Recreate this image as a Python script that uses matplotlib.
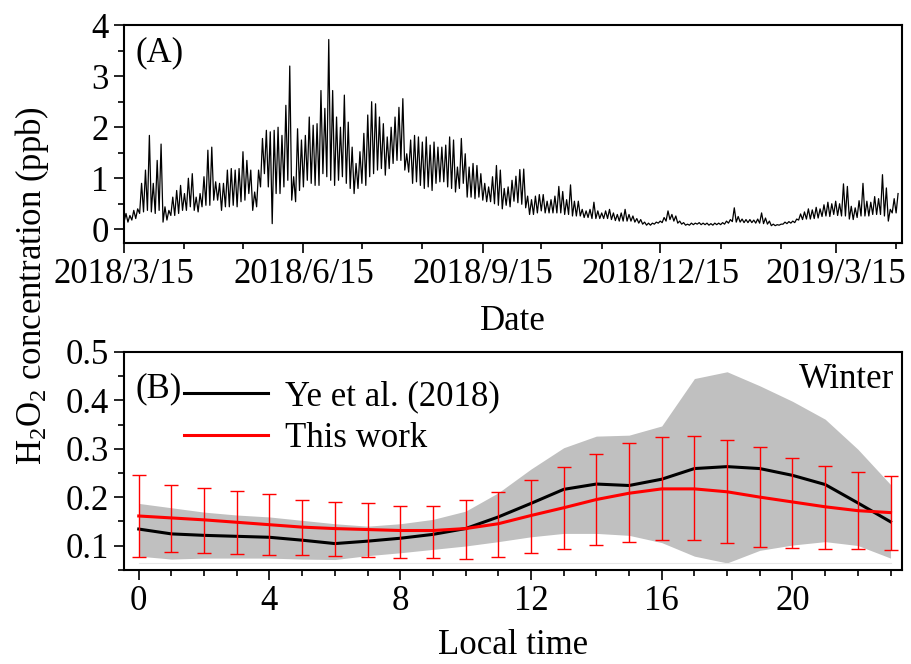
import matplotlib
matplotlib.use("Agg")
import matplotlib.pyplot as plt
import matplotlib.dates as mdates
import numpy as np
import pandas as pd
from matplotlib.ticker import MultipleLocator

plt.rcParams['font.family'] = ['Liberation Serif', 'DejaVu Serif']
plt.rcParams['mathtext.fontset'] = 'custom'
plt.rcParams['mathtext.rm'] = 'Liberation Serif'
plt.rcParams['mathtext.it'] = 'Liberation Serif:italic'
plt.rcParams['font.size'] = 25

start_date = '2018-03-15'
step_days = 2
ts_low = [0.14, 0.14, 0.18, 0.21, 0.31, 0.34, 0.37, 0.34, 0.31, 0.37,
          0.14, 0.18, 0.27, 0.27, 0.31, 0.37, 0.37, 0.44, 0.37, 0.34,
          0.44, 0.47, 0.47, 0.57, 0.57, 0.37, 0.44, 0.44, 0.47, 0.44,
          0.54, 0.57, 0.70, 0.37, 0.44, 0.83, 1.09, 0.83, 0.11, 0.70,
          0.70, 0.83, 0.96, 0.57, 0.54, 0.76, 0.83, 0.96, 0.90, 0.86,
          0.86, 1.09, 1.03, 0.96, 0.86, 0.96, 1.03, 0.90, 0.80, 0.70,
          0.80, 0.90, 0.86, 1.03, 1.09, 1.16, 1.19, 1.06, 1.19, 1.29,
          1.35, 1.35, 1.16, 1.12, 0.90, 0.93, 0.86, 0.80, 0.83, 0.76,
          0.90, 0.93, 0.93, 0.83, 0.80, 0.73, 0.80, 0.90, 0.63, 0.63,
          0.60, 0.63, 0.57, 0.54, 0.54, 0.50, 0.47, 0.40, 0.47, 0.44,
          0.55, 0.52, 0.49, 0.42, 0.29, 0.29, 0.32, 0.36, 0.32, 0.32,
          0.32, 0.32, 0.32, 0.29, 0.29, 0.26, 0.26, 0.26, 0.23, 0.23,
          0.21, 0.21, 0.21, 0.21, 0.21, 0.19, 0.17, 0.16, 0.16, 0.16,
          0.16, 0.14, 0.12, 0.10, 0.08, 0.08, 0.10, 0.12, 0.13, 0.16,
          0.19, 0.16, 0.12, 0.10, 0.08, 0.08, 0.09, 0.10, 0.09, 0.09,
          0.08, 0.08, 0.09, 0.09, 0.10, 0.12, 0.15, 0.14, 0.14, 0.13,
          0.13, 0.13, 0.12, 0.12, 0.11, 0.10, 0.07, 0.07, 0.08, 0.10,
          0.11, 0.12, 0.13, 0.18, 0.19, 0.20, 0.20, 0.21, 0.22, 0.25,
          0.26, 0.25, 0.29, 0.27, 0.26, 0.26, 0.20, 0.19, 0.23, 0.26,
          0.26, 0.26, 0.29, 0.29, 0.29, 0.26, 0.16, 0.32, 0.32]
ts_high = [0.31, 0.27, 0.37, 0.40, 0.90, 1.16, 1.84, 0.90, 1.35, 1.67,
           0.44, 0.37, 0.63, 0.76, 0.86, 0.70, 1.00, 1.09, 0.63, 0.70,
           1.03, 1.55, 1.61, 0.93, 0.90, 0.90, 1.16, 1.19, 1.16, 1.19,
           1.52, 1.35, 1.16, 0.73, 1.16, 1.78, 1.94, 1.91, 1.94, 2.00,
           1.84, 2.43, 3.20, 1.03, 1.97, 1.75, 1.84, 2.20, 2.04, 2.07,
           2.72, 2.37, 3.72, 2.72, 2.20, 2.00, 2.63, 2.10, 1.61, 1.29,
           1.52, 1.88, 2.24, 2.50, 2.46, 2.20, 2.07, 1.81, 2.00, 2.20,
           2.39, 2.56, 1.48, 1.75, 1.84, 1.81, 1.71, 1.81, 1.65, 1.71,
           1.61, 1.61, 1.65, 1.81, 1.75, 1.22, 1.78, 1.48, 1.22, 1.29,
           1.25, 1.09, 0.90, 0.83, 1.03, 1.25, 1.16, 0.80, 0.83, 0.96,
           1.04, 1.17, 1.18, 0.65, 0.58, 0.65, 0.68, 0.68, 0.55, 0.58,
           0.65, 0.84, 0.74, 0.58, 0.87, 0.55, 0.55, 0.39, 0.36, 0.39,
           0.53, 0.36, 0.32, 0.36, 0.39, 0.32, 0.29, 0.32, 0.39, 0.29,
           0.26, 0.21, 0.19, 0.14, 0.12, 0.12, 0.14, 0.16, 0.23, 0.36,
           0.29, 0.26, 0.16, 0.13, 0.10, 0.12, 0.12, 0.13, 0.12, 0.12,
           0.11, 0.12, 0.12, 0.13, 0.16, 0.19, 0.42, 0.25, 0.20, 0.19,
           0.19, 0.18, 0.20, 0.32, 0.22, 0.16, 0.10, 0.09, 0.10, 0.14,
           0.15, 0.16, 0.20, 0.30, 0.34, 0.40, 0.38, 0.43, 0.40, 0.48,
           0.53, 0.50, 0.55, 0.50, 0.89, 0.84, 0.45, 0.42, 0.56, 0.90,
           0.55, 0.53, 0.64, 0.60, 1.07, 0.81, 0.39, 0.60, 0.70]

# (B) winter diurnal profiles
hours = list(range(24))
ye_mean = [0.134, 0.124, 0.121, 0.119, 0.117, 0.111, 0.104, 0.109, 0.115, 0.123,
           0.135, 0.159, 0.187, 0.216, 0.227, 0.224, 0.237, 0.259, 0.263, 0.259,
           0.245, 0.226, 0.188, 0.149]
ye_upper = [0.187, 0.178, 0.169, 0.163, 0.159, 0.152, 0.145, 0.140, 0.145, 0.154,
            0.171, 0.209, 0.258, 0.302, 0.326, 0.328, 0.347, 0.445, 0.459, 0.430,
            0.398, 0.361, 0.299, 0.226]
ye_lower = [0.078, 0.072, 0.074, 0.074, 0.074, 0.072, 0.071, 0.079, 0.085, 0.092,
            0.099, 0.108, 0.118, 0.125, 0.125, 0.121, 0.106, 0.078, 0.064, 0.090,
            0.101, 0.108, 0.100, 0.074]
tw_mean = [0.161, 0.157, 0.153, 0.148, 0.143, 0.138, 0.135, 0.133, 0.131, 0.131,
           0.135, 0.145, 0.162, 0.178, 0.195, 0.208, 0.217, 0.217, 0.211, 0.200,
           0.190, 0.180, 0.172, 0.168]
tw_top = [0.245, 0.224, 0.219, 0.212, 0.206, 0.195, 0.190, 0.187, 0.182, 0.182,
          0.194, 0.211, 0.236, 0.263, 0.289, 0.312, 0.325, 0.326, 0.319, 0.304,
          0.281, 0.265, 0.251, 0.243]
tw_bottom = [0.077, 0.087, 0.085, 0.083, 0.081, 0.080, 0.079, 0.077, 0.075, 0.074,
             0.073, 0.077, 0.085, 0.092, 0.101, 0.108, 0.112, 0.111, 0.106, 0.097,
             0.095, 0.093, 0.092, 0.090]

fig = plt.figure(figsize=(9.12, 6.64), dpi=100)
ax1 = fig.add_axes([0.136, 0.634, 0.853, 0.328])
ax2 = fig.add_axes([0.136, 0.142, 0.853, 0.328])

# ---- panel A: zigzag between each window's low and high
t0 = pd.Timestamp(start_date)
t_all = []
v_all = []
for i in range(len(ts_low)):
    t_all.append(t0 + pd.Timedelta(days=step_days * i))
    v_all.append(ts_low[i])
    t_all.append(t0 + pd.Timedelta(days=step_days * i + step_days / 2))
    v_all.append(ts_high[i])
ax1.plot(t_all, v_all, color='black', lw=0.9)

ax1.set_xlim(t0, t0 + pd.Timedelta(days=399))
ax1.set_ylim(-0.27, 4)
ax1.xaxis.set_major_locator(mdates.MonthLocator(bymonth=[3, 6, 9, 12], bymonthday=15))
ax1.xaxis.set_minor_locator(mdates.MonthLocator(bymonthday=15))
ax1.xaxis.set_major_formatter(mdates.DateFormatter('%Y/%-m/%-d'))
ax1.yaxis.set_major_locator(MultipleLocator(1))
ax1.yaxis.set_minor_locator(MultipleLocator(0.5))
ax1.set_xlabel('Date', labelpad=10)
ax1.text(0.015, 0.95, '(A)', transform=ax1.transAxes, va='top', ha='left')

# ---- panel B
ax2.fill_between(hours, ye_lower, ye_upper, color='#c0c0c0', lw=0)
ax2.plot([0, 23], [0.064, 0.064], color='#e6e6e6', lw=0.8)
ax2.plot(hours, ye_mean, color='black', lw=2.2, label='Ye et al. (2018)')
tw = np.array(tw_mean)
yerr = [tw - np.array(tw_bottom), np.array(tw_top) - tw]
ax2.errorbar(hours, tw, yerr=yerr, fmt='none', ecolor='red', elinewidth=1,
             capsize=5, capthick=1)
ax2.plot(hours, tw_mean, color='red', lw=2.2, label='This work')

ax2.set_xlim(-0.45, 23.35)
ax2.set_ylim(0.05, 0.5)
ax2.xaxis.set_major_locator(MultipleLocator(4))
ax2.xaxis.set_minor_locator(MultipleLocator(1))
ax2.yaxis.set_major_locator(MultipleLocator(0.1))
ax2.yaxis.set_minor_locator(MultipleLocator(0.05))
ax2.set_xlabel('Local time', labelpad=8)
ax2.text(0.015, 0.83, '(B)', transform=ax2.transAxes, va='center', ha='left')
ax2.text(0.99, 0.95, 'Winter', transform=ax2.transAxes, va='top', ha='right')
ax2.legend(loc='upper left', bbox_to_anchor=(0.055, 0.95), frameon=False,
           handlelength=2.4, handletextpad=0.5, labelspacing=0.25, borderpad=0)

for ax in (ax1, ax2):
    ax.tick_params(which='both', direction='out', top=False, right=False, width=1.2)
    ax.tick_params(which='major', length=7, labelsize=25, pad=4)
    ax.tick_params(which='minor', length=4)
    for s in ax.spines.values():
        s.set_linewidth(1.5)

fig.text(0.035, 0.57, 'H$_2$O$_2$ concentration (ppb)', rotation=90,
         va='center', ha='center', fontsize=25)

fig.savefig('out.png', dpi=100)
